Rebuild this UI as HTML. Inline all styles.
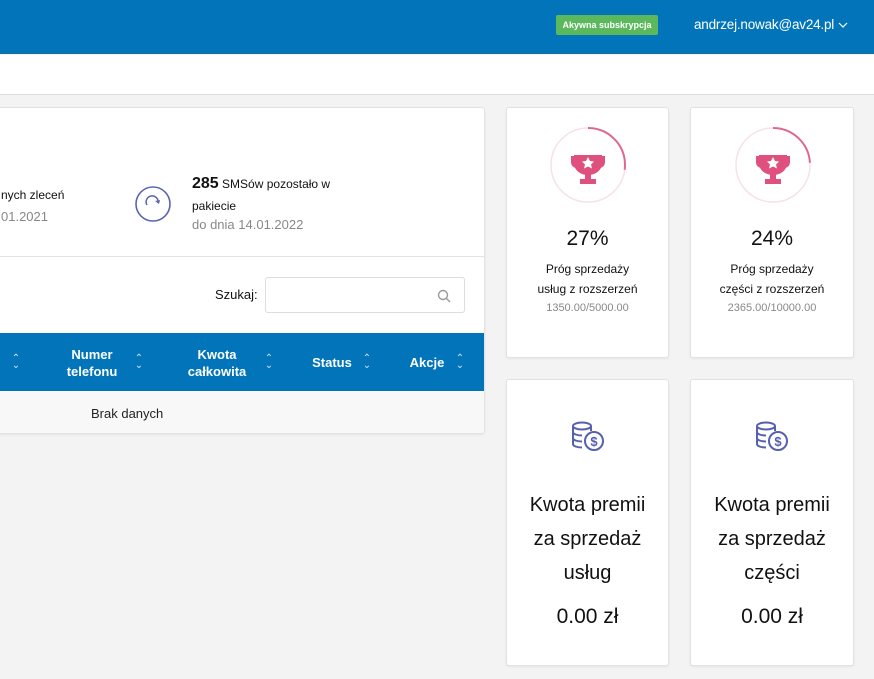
<!DOCTYPE html>
<html><head><meta charset="utf-8"><style>
*{margin:0;padding:0;box-sizing:border-box}
body{width:874px;height:679px;background:#f3f3f3;font-family:"Liberation Sans",sans-serif;position:relative;overflow:hidden;color:#111}
.a{position:absolute}
.card{position:absolute;background:#fff;border:1px solid #e2e2e2;border-radius:3px;box-shadow:0 1px 2px rgba(0,0,0,.06)}
.c{text-align:center;width:100%;left:0}
.th{position:absolute;color:#fff;font-weight:bold;font-size:13px;text-align:center;line-height:17px}
.ar{position:absolute;color:#cfe3f2;font-size:10px;line-height:7px;width:10px;text-align:center}
</style></head><body>
<div class="a" style="left:0;top:0;width:874px;height:54px;background:#0275ba;border-bottom:1px solid #1b6aa0"></div>
<div class="a" style="left:556px;top:15px;width:102px;height:20px;background:#5cb85c;border-radius:2px;color:#fff;font-size:9px;font-weight:bold;text-align:center;line-height:20px">Akywna subskrypcja</div>
<div class="a" style="left:694px;top:17px;color:#fff;font-size:13.5px;letter-spacing:-0.2px">andrzej.nowak@av24.pl</div>
<svg class="a" style="left:838px;top:21px" width="10" height="8"><path d="M1 2l4 4 4-4" fill="none" stroke="#fff" stroke-width="1.2"/></svg>
<div class="a" style="left:0;top:55px;width:874px;height:40px;background:#fff;border-bottom:1px solid #ddd"></div>

<div class="card" style="left:-4px;top:107px;width:489px;height:327px;overflow:hidden">
 <div class="a" style="left:4px;top:80px;font-size:12px">nych zleceń</div>
 <div class="a" style="left:4px;top:101px;font-size:13px;color:#888">01.2021</div>
 <svg class="a" style="left:138px;top:78px" width="36" height="36"><circle cx="18" cy="18" r="17" fill="none" stroke="#5c65b0" stroke-width="1.6"/><path d="M12 19 A6 6 0 1 1 23 17" fill="none" stroke="#5c65b0" stroke-width="1.5"/><path d="M20 15 L24 18 L25 14Z" fill="#5c65b0"/></svg>
 <div class="a" style="left:195px;top:67px;font-size:12px"><b style="font-size:16px">285</b> SMSów pozostało w</div>
 <div class="a" style="left:195px;top:91px;font-size:12px">pakiecie</div>
 <div class="a" style="left:195px;top:109px;font-size:13px;color:#888">do dnia 14.01.2022</div>
 <div class="a" style="left:0;top:148px;width:489px;height:1px;background:#e3e3e3"></div>
 <div class="a" style="left:218px;top:179px;font-size:13px">Szukaj:</div>
 <div class="a" style="left:268px;top:169px;width:200px;height:36px;border:1px solid #ddd;border-radius:3px"></div>
 <svg class="a" style="left:440px;top:181px" width="14" height="14"><circle cx="6" cy="6" r="4.5" fill="none" stroke="#999" stroke-width="1.4"/><path d="M9.5 9.5L13 13" stroke="#999" stroke-width="1.4"/></svg>
 <div class="a" style="left:0;top:225px;width:489px;height:58px;background:#0275ba"></div>
 <div class="th" style="left:60px;top:238px;width:70px">Numer<br>telefonu</div>
 <div class="th" style="left:185px;top:238px;width:70px">Kwota<br>całkowita</div>
 <div class="th" style="left:310px;top:246px;width:50px">Status</div>
 <div class="th" style="left:410px;top:246px;width:40px">Akcje</div>
 <div class="ar" style="left:14px;top:247px">&#8963;<br>&#8964;</div>
 <div class="ar" style="left:137px;top:247px">&#8963;<br>&#8964;</div>
 <div class="ar" style="left:267px;top:247px">&#8963;<br>&#8964;</div>
 <div class="ar" style="left:365px;top:247px">&#8963;<br>&#8964;</div>
 <div class="ar" style="left:458px;top:247px">&#8963;<br>&#8964;</div>
 <div class="a" style="left:0;top:284px;width:489px;height:43px;background:#f8f8f8"></div>
 <div class="a" style="left:94px;top:298px;font-size:13px;color:#222">Brak danych</div>
</div>

<div class="card" style="left:506px;top:107px;width:163px;height:251px">
 <svg class="a" style="left:42px;top:18px" width="78" height="78"><circle cx="39" cy="39" r="37" fill="none" stroke="#f7e1e8" stroke-width="1.5"/><circle cx="39" cy="39" r="37" fill="none" stroke="#e0688f" stroke-width="2" stroke-dasharray="62.8 300" transform="rotate(-90 39 39)"/>
 <g fill="#e0507f"><path d="M25 29h28v8c0 7-6 12-14 12s-14-5-14-12z"/><path d="M22 30h6v3h-3v3c0 2 2 3 3 3v3c-4 0-6-3-6-6z"/><path d="M56 30h-6v3h3v3c0 2-2 3-3 3v3c4 0 6-3 6-6z"/><rect x="36" y="48" width="6" height="6"/><rect x="31" y="53" width="16" height="5"/></g>
 <path d="M39 31l2 4 4 .5-3 3 1 4-4-2-4 2 1-4-3-3 4-.5z" fill="#fff"/></svg>
 <div class="a c" style="top:119px;font-size:21px">27%</div>
 <div class="a c" style="top:154px;font-size:12px">Próg sprzedaży</div>
 <div class="a c" style="top:174px;font-size:12px">usług z rozszerzeń</div>
 <div class="a c" style="top:194px;font-size:11px;color:#888">1350.00/5000.00</div>
</div>
<div class="card" style="left:690px;top:107px;width:164px;height:251px">
 <svg class="a" style="left:43px;top:18px" width="78" height="78"><circle cx="39" cy="39" r="37" fill="none" stroke="#f7e1e8" stroke-width="1.5"/><circle cx="39" cy="39" r="37" fill="none" stroke="#e0688f" stroke-width="2" stroke-dasharray="55.8 300" transform="rotate(-90 39 39)"/>
 <g fill="#e0507f"><path d="M25 29h28v8c0 7-6 12-14 12s-14-5-14-12z"/><path d="M22 30h6v3h-3v3c0 2 2 3 3 3v3c-4 0-6-3-6-6z"/><path d="M56 30h-6v3h3v3c0 2-2 3-3 3v3c4 0 6-3 6-6z"/><rect x="36" y="48" width="6" height="6"/><rect x="31" y="53" width="16" height="5"/></g>
 <path d="M39 31l2 4 4 .5-3 3 1 4-4-2-4 2 1-4-3-3 4-.5z" fill="#fff"/></svg>
 <div class="a c" style="top:119px;font-size:21px">24%</div>
 <div class="a c" style="top:154px;font-size:12px">Próg sprzedaży</div>
 <div class="a c" style="top:174px;font-size:12px">części z rozszerzeń</div>
 <div class="a c" style="top:194px;font-size:11px;color:#888">2365.00/10000.00</div>
</div>

<div class="card" style="left:506px;top:379px;width:163px;height:287px">
 <svg class="a" style="left:63px;top:40px" width="36" height="34"><g fill="none" stroke="#5560b0" stroke-width="2"><ellipse cx="12" cy="6" rx="9" ry="3.5"/><path d="M3 6v18c0 2 4 3.5 9 3.5M3 12c0 2 4 3.5 9 3.5M3 18c0 2 4 3.5 9 3.5M21 6v5"/><circle cx="24" cy="21" r="9"/></g><text x="24" y="26" font-size="13" font-weight="bold" fill="#5560b0" text-anchor="middle" font-family="Liberation Sans">$</text></svg>
 <div class="a c" style="top:108px;font-size:20px;line-height:34px">Kwota premii<br>za sprzedaż<br>usług</div>
 <div class="a c" style="top:225px;font-size:21px">0.00 zł</div>
</div>
<div class="card" style="left:690px;top:379px;width:164px;height:287px">
 <svg class="a" style="left:63px;top:40px" width="36" height="34"><g fill="none" stroke="#5560b0" stroke-width="2"><ellipse cx="12" cy="6" rx="9" ry="3.5"/><path d="M3 6v18c0 2 4 3.5 9 3.5M3 12c0 2 4 3.5 9 3.5M3 18c0 2 4 3.5 9 3.5M21 6v5"/><circle cx="24" cy="21" r="9"/></g><text x="24" y="26" font-size="13" font-weight="bold" fill="#5560b0" text-anchor="middle" font-family="Liberation Sans">$</text></svg>
 <div class="a c" style="top:108px;font-size:20px;line-height:34px">Kwota premii<br>za sprzedaż<br>części</div>
 <div class="a c" style="top:225px;font-size:21px">0.00 zł</div>
</div>
</body></html>
